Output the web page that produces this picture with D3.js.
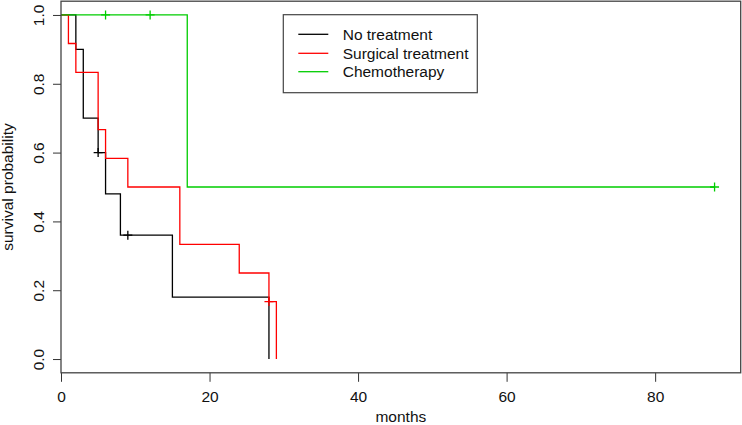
<!DOCTYPE html>
<html>
<head>
<meta charset="utf-8">
<script src="https://cdn.jsdelivr.net/npm/d3@7"></script>
<style>
  body { margin: 0; background: #fff; }
  svg text { font-family: Arial, "Liberation Sans", sans-serif; font-size: 15.5px; fill: #111; }
  .axis path { display: none; }
  .axis line { stroke: #333; }
</style>
</head>
<body>
<div id="chart"></div>
<script>
// Kaplan-Meier step data
var noTreatTimes = [0, 2, 3, 5, 6, 8, 15, 28];
var noTreatSurv  = [1, 0.9, 0.7, 0.6, 0.48, 0.36, 0.18, 0];
var noTreatCensor = [5, 9];
var noTreatEnd = 28;

var surgTimes = [0, 1, 2, 5, 6, 9, 16, 24, 28, 29];
var surgSurv  = [1, 0.917, 0.833, 0.667, 0.583, 0.5, 0.333, 0.25, 0.167, 0];
var surgCensor = [28];
var surgEnd = 29;

var chemoTimes = [0, 17];
var chemoSurv  = [1, 0.5];
var chemoCensor = [6, 12, 88];
var chemoEnd = 88;

var seriesNames = ["No treatment", "Surgical treatment", "Chemotherapy"];
var seriesColors = ["#000000", "#ff0000", "#00cd00"];

var xTicks = [0, 20, 40, 60, 80];
var yTicks = [0, 0.2, 0.4, 0.6, 0.8, 1.0];

var W = 742, H = 425;
// plot box edges (note: "top" is reserved on window, so use p*)
var pLeft = 61, pRight = 740.7, pTop = 1.2, pBottom = 372.8;

var svg = d3.select("#chart").append("svg")
	.attr("width", W)
	.attr("height", H);

// R style: x starts at 0, extends 4% past max; y extends 4% both sides
var x = d3.scaleLinear().domain([0, 88 * 1.04]).range([pLeft, pRight]);
var y = d3.scaleLinear().domain([-0.04, 1.04]).range([pBottom, pTop]);

function stepAt(times, surv, t) {
	var v = surv[0];
	for (var i = 0; i < times.length; i++) {
		if (times[i] <= t) v = surv[i];
	}
	return v;
}

var series = [
	{times: noTreatTimes, surv: noTreatSurv, censor: noTreatCensor, end: noTreatEnd},
	{times: surgTimes, surv: surgSurv, censor: surgCensor, end: surgEnd},
	{times: chemoTimes, surv: chemoSurv, censor: chemoCensor, end: chemoEnd}
];

var line = d3.line()
	.x(function(d) { return x(d[0]); })
	.y(function(d) { return y(d[1]); })
	.curve(d3.curveStepAfter);

series.forEach(function(s, i) {
	var pts = s.times.map(function(t, j) { return [t, s.surv[j]]; });
	var last = pts[pts.length - 1];
	if (last[0] < s.end) pts.push([s.end, last[1]]);

	svg.append("path")
		.attr("d", line(pts))
		.attr("fill", "none")
		.attr("stroke", seriesColors[i])
		.attr("stroke-width", 1.3);

	// censor marks
	s.censor.forEach(function(t) {
		var cx = x(t), cy = y(stepAt(s.times, s.surv, t));
		svg.append("path")
			.attr("d", "M" + (cx - 4.5) + "," + cy + "H" + (cx + 4.5) +
				"M" + cx + "," + (cy - 4.5) + "V" + (cy + 4.5))
			.attr("stroke", seriesColors[i])
			.attr("stroke-width", 1.3);
	});
});

// axes
var xAxis = d3.axisBottom(x).tickValues(xTicks).tickSize(9).tickFormat(d3.format("d"));
var gx = svg.append("g")
	.attr("class", "axis")
	.attr("transform", "translate(0," + pBottom + ")")
	.call(xAxis);
gx.selectAll("text").attr("y", 29).attr("dy", null);

var yAxis = d3.axisLeft(y).tickValues(yTicks).tickSize(8).tickFormat(d3.format(".1f"));
var gy = svg.append("g")
	.attr("class", "axis")
	.attr("transform", "translate(" + pLeft + ",0)")
	.call(yAxis);
gy.selectAll("text")
	.attr("x", null).attr("dy", null)
	.attr("text-anchor", "middle")
	.attr("transform", "translate(-17.5,0) rotate(-90)");

svg.selectAll(".axis").attr("font-size", null).attr("font-family", null);

// box
svg.append("rect")
	.attr("x", pLeft).attr("y", pTop)
	.attr("width", pRight - pLeft).attr("height", pBottom - pTop)
	.attr("fill", "none")
	.attr("stroke", "#444")
	.attr("stroke-width", 1.3);

// axis titles
svg.append("text")
	.attr("x", (pLeft + pRight) / 2).attr("y", 422)
	.attr("text-anchor", "middle")
	.text("months");

svg.append("text")
	.attr("transform", "translate(13," + ((pTop + pBottom) / 2) + ") rotate(-90)")
	.attr("text-anchor", "middle")
	.text("survival probability");

// legend
var legend = svg.append("g");
legend.append("rect")
	.attr("x", 283.3).attr("y", 14.7)
	.attr("width", 194).attr("height", 78)
	.attr("fill", "#fff")
	.attr("stroke", "#444")
	.attr("stroke-width", 1.2);

var rowY = [34.3, 53.3, 71.7];
seriesNames.forEach(function(name, i) {
	legend.append("line")
		.attr("x1", 298.3).attr("x2", 328.3)
		.attr("y1", rowY[i]).attr("y2", rowY[i])
		.attr("stroke", seriesColors[i])
		.attr("stroke-width", 1.3);
	legend.append("text")
		.attr("x", 342.7).attr("y", rowY[i])
		.attr("dy", "0.35em")
		.text(name);
});
</script>
</body>
</html>
